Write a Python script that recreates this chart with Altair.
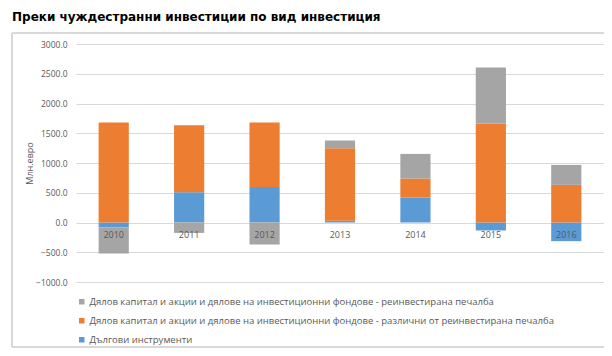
import altair as alt
import pandas as pd

years = ["2010", "2011", "2012", "2013", "2014", "2015", "2016"]
series_names = [
    "Дялов капитал  и акции и дялове на инвестиционни  фондове - реинвестирана  печалба",
    "Дялов капитал  и акции и дялове на инвестиционни  фондове - различни от реинвестирана печалба",
    "Дългови инструменти",
]
reinvested = [-437, -175, -370, 129, 414, 941, 336]
other_equity = [1681, 1126, 1083, 1219, 319, 1664, 632]
debt = [-84, 509, 598, 30, 420, -134, -314]
colors = ["#a5a5a5", "#ed7d31", "#5b9bd5"]
y_ticks = [-1000, -500, 0, 500, 1000, 1500, 2000, 2500, 3000]

rows = []
for vals, name, order in [(debt, series_names[2], 0), (other_equity, series_names[1], 1), (reinvested, series_names[0], 2)]:
    for yr, v in zip(years, vals):
        rows.append({"year": yr, "series": name, "value": v, "ord": order})
df = pd.DataFrame(rows)
ydf = pd.DataFrame({"year": years, "zero": [0] * len(years)})

font = "Open Sans"
grey_txt = "#595959"

xscale = alt.Scale(domain=years, paddingInner=0.6, paddingOuter=0.3)
yscale = alt.Scale(domain=[-1000, 3000], nice=False)

yaxis = alt.Axis(values=y_ticks, tickCount=9, format=".1f", title="Млн.евро",
                 grid=True, gridColor="#d9d9d9", domain=False, ticks=False,
                 labelOverlap=False,
                 labelPadding=9, labelColor=grey_txt, labelFontSize=8.5, labelFont=font,
                 titleColor=grey_txt, titleFontSize=9, titleFont=font, titleFontWeight="normal",
                 titlePadding=1)

bars = alt.Chart(df).mark_bar().encode(
    x=alt.X("year:N", scale=xscale, axis=None),
    y=alt.Y("sum(value):Q", scale=yscale, stack="zero", axis=yaxis),
    color=alt.Color("series:N",
                    scale=alt.Scale(domain=series_names, range=colors),
                    legend=alt.Legend(title=None, orient="none", legendX=1, legendY=253,
                                      direction="vertical", symbolType="square", symbolSize=30,
                                      symbolStrokeWidth=0, labelFont=font, labelFontSize=9.5,
                                      labelColor=grey_txt, rowPadding=8, padding=0,
                                      labelOffset=3, labelLimit=600)),
    order=alt.Order("ord:Q", sort="ascending"),
)

labels = alt.Chart(ydf).mark_text(dy=12, fontSize=9, font=font, color=grey_txt).encode(
    x=alt.X("year:N", scale=xscale, axis=None),
    y=alt.Y("zero:Q", scale=yscale, axis=yaxis),
    text="year:N",
)

frame = alt.Chart(ydf).mark_rect(fill=None, stroke="#d9d9d9", strokeWidth=1).encode(
    x=alt.value(-64), x2=alt.value(529), y=alt.value(-11), y2=alt.value(303),
)

chart = alt.layer(bars, labels, frame).properties(
    width=528, height=238,
    autosize=alt.AutoSizeParams(type="none"),
    padding={"left": 68, "top": 36, "right": 0, "bottom": 66},
    title=alt.TitleParams("Преки чуждестранни инвестиции по вид инвестиция",
                          anchor="start", frame="group", dx=-64, offset=9,
                          font="DejaVu Sans", fontSize=12, fontWeight="bold", color="#000000"),
).configure_view(stroke=None)

chart.save("out.html", embed_options={"renderer": "svg", "actions": False})
